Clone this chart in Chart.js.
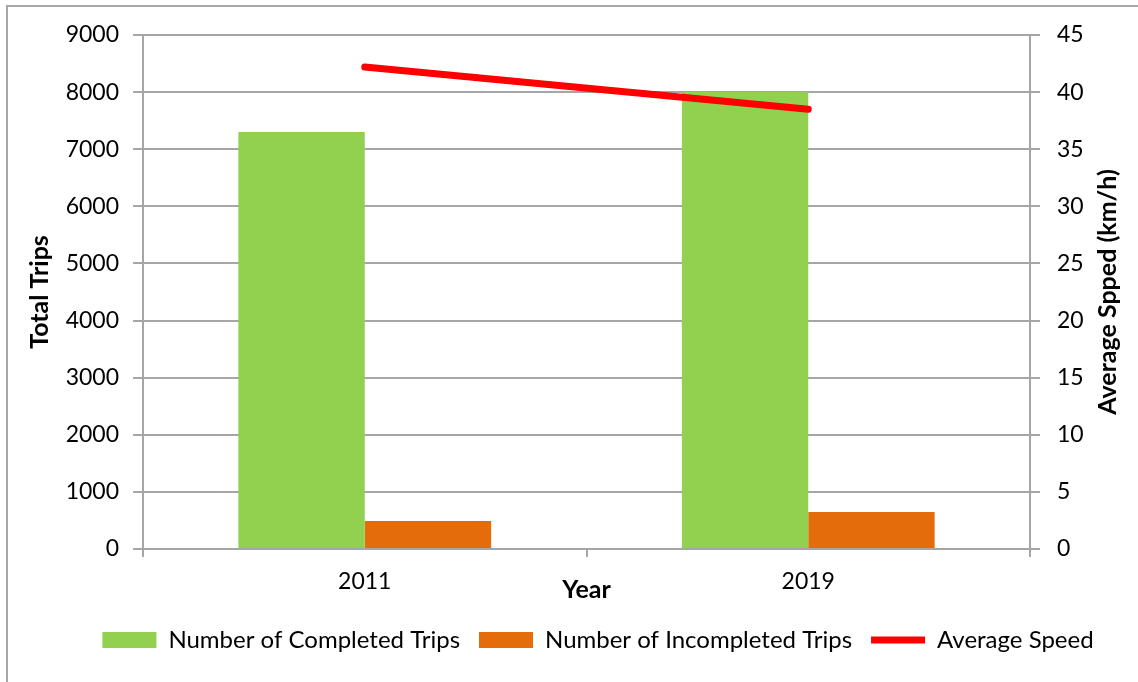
<!DOCTYPE html>
<html>
<head>
<meta charset="utf-8">
<title>Trips and Average Speed</title>
<script src="https://cdn.jsdelivr.net/npm/chart.js@4.4.1/dist/chart.umd.min.js"></script>
<style>
  html, body { margin: 0; padding: 0; background: #fff; }
  #wrap { position: relative; width: 1138px; height: 682px; overflow: hidden; }
  #frame { position: absolute; left: 6px; top: 5px; width: 1300px; height: 900px; border: 2px solid #a6a6a6; }
  #chart { position: absolute; left: 0; top: 0; }
</style>
</head>
<body>
<div id="wrap">
  <div id="frame"></div>
  <canvas id="chart" width="1138" height="682"></canvas>
</div>
<script>
// data
const years = ["2011", "2019"];
const completedTrips = [7300, 8000];
const incompletedTrips = [490, 650];
const avgSpeed = [42.2, 38.5];
const tripTicks = [0, 9000, 1000];   // min, max, step
const speedTicks = [0, 45, 5];

const FONT = "Lato";
const gridColor = "#a6a6a6";
const tickFont = { family: FONT, size: 23 };
const titleFont = { family: FONT, size: 25, weight: "bold" };

// right axis title reads bottom-to-top, Chart.js would rotate it the other way
const rightTitle = {
  id: "rightTitle",
  afterDraw(chart) {
    const s = chart.scales.y1;
    const ctx = chart.ctx;
    ctx.save();
    ctx.translate(s.right - 30, (s.top + s.bottom) / 2);
    ctx.rotate(-Math.PI / 2);
    ctx.font = "bold 25px " + FONT;
    ctx.fillStyle = "#000";
    ctx.textAlign = "center";
    ctx.textBaseline = "middle";
    ctx.fillText("Average Spped (km/h)", 0, 0);
    ctx.restore();
  }
};

new Chart(document.getElementById("chart"), {
  data: {
    labels: years,
    datasets: [
      {
        type: "bar",
        label: "Number of Completed Trips",
        data: completedTrips,
        backgroundColor: "#92d050",
        yAxisID: "y",
        categoryPercentage: 0.57,
        barPercentage: 1.0
      },
      {
        type: "bar",
        label: "Number of Incompleted Trips",
        data: incompletedTrips,
        backgroundColor: "#e46c0a",
        yAxisID: "y",
        categoryPercentage: 0.57,
        barPercentage: 1.0
      },
      {
        type: "line",
        label: "Average Speed",
        data: avgSpeed,
        borderColor: "#ff0000",
        backgroundColor: "#ff0000",
        borderWidth: 7,
        borderCapStyle: "round",
        pointRadius: 0,
        yAxisID: "y1",
        order: -1
      }
    ]
  },
  options: {
    responsive: false,
    animation: false,
    layout: { padding: { left: 58, right: 0, top: 35, bottom: 20 } },
    plugins: {
      tooltip: { enabled: false },
      legend: {
        position: "bottom",
        labels: {
          font: { family: FONT, size: 24 },
          color: "#000",
          usePointStyle: true,
          pointStyleWidth: 54,
          boxHeight: 16,
          padding: 19,
          generateLabels: chart => chart.data.datasets.map((ds, i) => ({
            text: ds.label,
            fillStyle: ds.type === "line" ? ds.borderColor : ds.backgroundColor,
            strokeStyle: ds.type === "line" ? ds.borderColor : ds.backgroundColor,
            lineWidth: ds.type === "line" ? 7 : 0,
            pointStyle: ds.type === "line" ? "line" : "rect",
            fontColor: "#000",
            hidden: false,
            datasetIndex: i
          }))
        }
      }
    },
    scales: {
      x: {
        offset: true,
        grid: { display: true, drawOnChartArea: false, offset: true, tickLength: 8, color: gridColor, lineWidth: 2 },
        border: { display: true, color: gridColor, width: 2 },
        ticks: { color: "#000", font: tickFont, padding: 11 },
        title: { display: true, text: "Year", color: "#000", font: titleFont, padding: { top: 0, bottom: 4 } },
        afterFit: s => { s.height = 60; }
      },
      y: {
        position: "left",
        min: tripTicks[0],
        max: tripTicks[1],
        ticks: { stepSize: tripTicks[2], color: "#000", font: tickFont, padding: 14, callback: v => String(v) },
        grid: { color: gridColor, lineWidth: 2, tickLength: 10 },
        border: { display: true, color: gridColor, width: 2 },
        title: { display: true, text: "Total Trips", color: "#000", font: titleFont, padding: { top: -33, bottom: 0 } },
        afterFit: s => { s.width = 85; }
      },
      y1: {
        position: "right",
        min: speedTicks[0],
        max: speedTicks[1],
        ticks: { stepSize: speedTicks[2], color: "#000", font: tickFont, padding: 17, callback: v => String(v) },
        grid: { drawOnChartArea: false, color: gridColor, lineWidth: 2, tickLength: 10 },
        border: { display: true, color: gridColor, width: 2 },
        afterFit: s => { s.width = 108; }
      }
    }
  },
  plugins: [rightTitle]
});
</script>
</body>
</html>
